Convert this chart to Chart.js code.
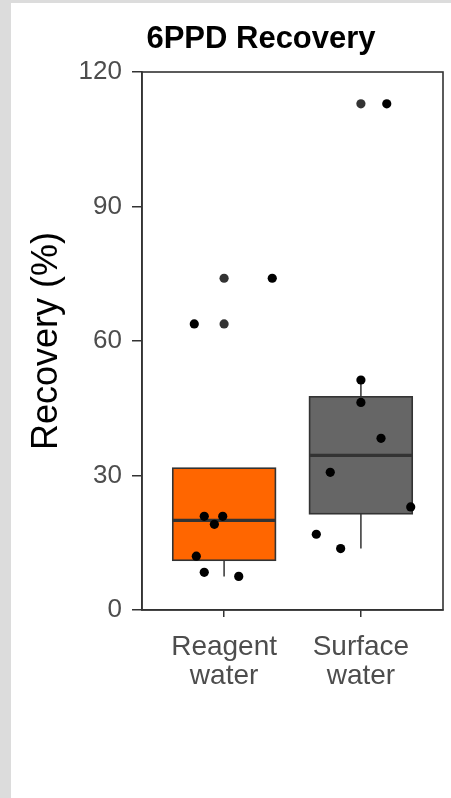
<!DOCTYPE html>
<html>
<head>
<meta charset="utf-8">
<script src="https://cdn.jsdelivr.net/npm/chart.js@4"></script>
<style>
  html, body { margin: 0; padding: 0; background: #dcdcdc; width: 451px; height: 798px; overflow: hidden; }
  #wrap { position: absolute; left: 11px; top: 3px; width: 440px; height: 795px; background: #ffffff; }
  canvas { display: block; }
</style>
</head>
<body>
<div id="wrap"><canvas id="c" width="440" height="795"></canvas></div>
<script>
// ---- data ----
const chartTitle = "6PPD Recovery";
const yTitle = "Recovery (%)";
const categories = [["Reagent", "water"], ["Surface", "water"]];
const yTicks = [0, 30, 60, 90, 120];
const boxColors = ["#ff6600", "#666666"];

// recovery values (%) per sample
const reagentValues = [74.0, 63.8, 20.9, 20.9, 19.1, 12.0, 8.4, 7.5];
const surfaceValues = [112.9, 51.3, 46.3, 38.3, 30.7, 23.0, 16.9, 13.7];
// horizontal jitter of each point (category units)
const reagentJitter = [0.352, -0.218, -0.145, -0.010, -0.071, -0.203, -0.145, 0.107];
const surfaceJitter = [0.189, 0.000, 0.000, 0.147, -0.224, 0.364, -0.326, -0.148];

const groups = [reagentValues, surfaceValues];
const jitters = [reagentJitter, surfaceJitter];

// ---- boxplot statistics (Tukey, quantile type 7) ----
function quantile(sorted, p) {
  const h = (sorted.length - 1) * p;
  const lo = Math.floor(h), hi = Math.ceil(h);
  return sorted[lo] + (h - lo) * (sorted[hi] - sorted[lo]);
}
function boxStats(vals) {
  const s = [...vals].sort((a, b) => a - b);
  const q1 = quantile(s, 0.25), med = quantile(s, 0.5), q3 = quantile(s, 0.75);
  const iqr = q3 - q1;
  const inside = s.filter(v => v >= q1 - 1.5 * iqr && v <= q3 + 1.5 * iqr);
  const lo = Math.min(...inside), hi = Math.max(...inside);
  const out = s.filter(v => v < q1 - 1.5 * iqr || v > q3 + 1.5 * iqr);
  return { q1, med, q3, lo: Math.min(lo, q1), hi: Math.max(hi, q3), out };
}
const stats = groups.map(boxStats);

const jitterPoints = [];
groups.forEach((g, i) => g.forEach((v, k) => jitterPoints.push({ x: i + 1 + jitters[i][k], y: v })));
const outlierPoints = [];
stats.forEach((s, i) => s.out.forEach(v => outlierPoints.push({ x: i + 1, y: v })));

const INK = "#333333";
const FONT = "'Liberation Sans', Arial, sans-serif";

const boxPlugin = {
  id: "boxes",
  beforeDatasetsDraw(chart) {
    const { ctx, scales: { x, y } } = chart;
    const half = 0.375;
    stats.forEach((s, i) => {
      const cx = x.getPixelForValue(i + 1);
      const l = x.getPixelForValue(i + 1 - half), r = x.getPixelForValue(i + 1 + half);
      const yq1 = y.getPixelForValue(s.q1), yq3 = y.getPixelForValue(s.q3);
      ctx.save();
      ctx.strokeStyle = INK;
      ctx.lineWidth = 1.5;
      ctx.beginPath();
      ctx.moveTo(cx, y.getPixelForValue(s.hi)); ctx.lineTo(cx, yq3);
      ctx.moveTo(cx, yq1); ctx.lineTo(cx, y.getPixelForValue(s.lo));
      ctx.stroke();
      ctx.fillStyle = boxColors[i];
      ctx.fillRect(l, yq3, r - l, yq1 - yq3);
      ctx.lineWidth = 1.6;
      ctx.strokeRect(l, yq3, r - l, yq1 - yq3);
      ctx.lineWidth = 3.2;
      const ym = y.getPixelForValue(s.med);
      ctx.beginPath(); ctx.moveTo(l, ym); ctx.lineTo(r, ym); ctx.stroke();
      ctx.restore();
    });
  },
  afterDraw(chart) {
    const { ctx, chartArea: a } = chart;
    ctx.save();
    ctx.strokeStyle = INK;
    ctx.lineWidth = 1.6;
    ctx.strokeRect(a.left, a.top, a.right - a.left, a.bottom - a.top);
    ctx.fillStyle = "#000000";
    ctx.font = "bold 31px " + FONT;
    ctx.textAlign = "center";
    ctx.textBaseline = "alphabetic";
    ctx.fillText(chartTitle, 250, 44.5);
    ctx.restore();
  }
};

new Chart(document.getElementById("c"), {
  type: "scatter",
  data: {
    datasets: [
      { label: "outliers", data: outlierPoints, backgroundColor: INK, borderColor: INK, pointRadius: 4.6, borderWidth: 0 },
      { label: "samples", data: jitterPoints, backgroundColor: "#000000", borderColor: "#000000", pointRadius: 4.6, borderWidth: 0 }
    ]
  },
  options: {
    responsive: false,
    animation: false,
    events: [],
    layout: { padding: { top: 69, right: 8, left: 0, bottom: 0 } },
    plugins: { legend: { display: false }, tooltip: { enabled: false }, title: { display: false } },
    scales: {
      x: {
        type: "linear",
        min: 0.4, max: 2.6,
        afterBuildTicks(scale) { scale.ticks = [{ value: 1 }, { value: 2 }]; },
        afterFit(scale) { scale.height = 188; },
        ticks: {
          callback: (v) => categories[Math.round(v) - 1],
          color: "#4d4d4d",
          font: { family: FONT, size: 28, lineHeight: 1.02 },
          padding: 16,
          maxRotation: 0,
          autoSkip: false
        },
        grid: { display: true, drawOnChartArea: false, drawTicks: true, tickLength: 7, color: INK, lineWidth: 1.5 },
        border: { display: true, color: INK, width: 1.6 }
      },
      y: {
        type: "linear",
        min: 0, max: 120,
        afterBuildTicks(scale) { scale.ticks = yTicks.map(v => ({ value: v })); },
        afterFit(scale) { scale.width = 131; },
        ticks: {
          color: "#4d4d4d",
          font: { family: FONT, size: 26 },
          padding: 10
        },
        grid: { display: true, drawOnChartArea: false, drawTicks: true, tickLength: 10, color: INK, lineWidth: 1.5 },
        border: { display: true, color: INK, width: 1.6 },
        title: {
          display: true,
          text: yTitle,
          color: "#000000",
          font: { family: FONT, size: 36 },
          padding: { top: 14, bottom: 0 }
        }
      }
    }
  },
  plugins: [boxPlugin]
});
</script>
</body>
</html>
